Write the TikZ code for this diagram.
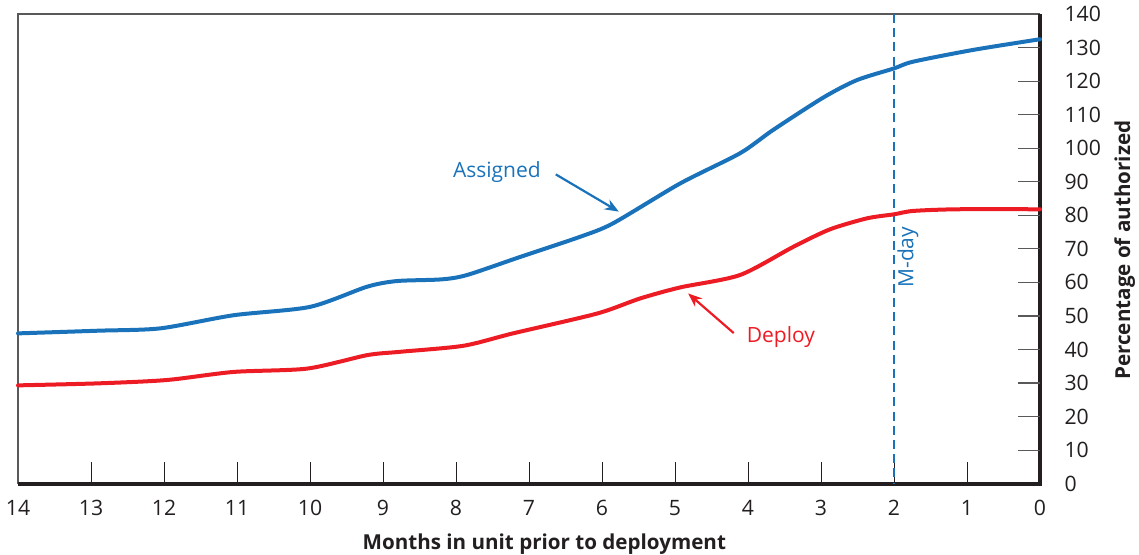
\documentclass[tikz,border=0pt]{standalone}
\usepackage{fontspec}
\setmainfont{Open Sans}
\usetikzlibrary{arrows.meta}

\definecolor{asgblue}{RGB}{26,115,186}
\definecolor{depred}{RGB}{237,28,36}
\definecolor{inkdark}{RGB}{35,31,32}

\tikzset{
  curve/.style={line width=2pt, line join=round, line cap=round},
  callout/.style={line width=1.1pt, -{Stealth[length=7pt,width=5.5pt]}},
  ticklab/.style={text=inkdark, font=\fontsize{10.6}{12}\selectfont},
  axtitle/.style={text=inkdark, font=\bfseries\fontsize{10.3}{12}\selectfont}
}

\begin{document}
\begin{tikzpicture}[x=-36.5pt, y=1.677pt]
    \useasboundingbox (14.247,-21.2) rectangle (-1.356,144.2);

    % Frame and axes
    \draw[gray!70!black, line width=0.6pt] (0,140) -- (14,140) -- (14,0);
    \draw[inkdark, line width=2pt] (14,0) -- (0,0) -- (0,140);

    % Month ticks
    \foreach \m in {1,...,13} {
        \draw[inkdark, line width=0.5pt] (\m,0) -- (\m,6.6);
    }
    \foreach \m in {0,...,14} {
        \node[ticklab] (mlab\m) at (\m,-7.2) {\m};
    }

    % Percentage ticks
    \foreach \p in {10,20,...,130} {
        \draw[gray!70!black, line width=0.6pt] (0,\p) -- (0.3,\p);
    }
    \foreach \p in {0,10,...,140} {
        \node[ticklab, anchor=west] (plab\p) at (-0.24,\p) {\p};
    }

    % M-day
    \draw[asgblue, line width=1.3pt, dash pattern=on 4.5pt off 2.6pt] (2,140) -- (2,0);
    \node[text=asgblue, rotate=90, font=\fontsize{10.5}{12}\selectfont] (mday) at (1.81,67.5) {M-day};

    % Assigned curve
    \draw[curve, asgblue] plot[smooth, tension=0.45] coordinates {
        (14,44.8) (12.9,45.6) (12.05,46.3) (11.05,50.2) (10.0,52.7)
        (9.22,58.7) (8.81,60.4) (8.2,60.9) (7.85,62.2) (7.12,67.6)
        (6.30,73.6) (5.85,77.6) (4.93,89.5) (4.11,98.5) (3.66,105.4)
        (2.97,115.1) (2.51,120.3) (2.0,123.8) (1.74,125.8) (0.92,129.3)
        (0,132.5)};

    % Deploy curve
    \draw[curve, depred] plot[smooth, tension=0.45] coordinates {
        (14,29.3) (12.9,29.9) (11.96,30.9) (11.05,33.3) (10.04,34.3)
        (9.22,38.3) (8.77,39.3) (7.90,41.1) (7.22,44.8) (6.07,50.7)
        (5.48,55.2) (4.93,58.5) (4.11,62.2) (3.38,70.6) (2.88,75.8)
        (2.37,79.1) (2.0,80.3) (1.74,81.3) (1.14,81.8) (0,81.8)};

    % Callouts
    \node[text=asgblue, font=\fontsize{10.5}{12}\selectfont] (asg) at (7.44,92.8) {Assigned};
    \coordinate (asgtip) at (5.77,81.1);
    \draw[callout, asgblue] ([xshift=4pt,yshift=-1pt]asg.east) -- (asgtip);

    \node[text=depred, font=\fontsize{10.5}{12}\selectfont] (dep) at (3.55,43.7) {Deploy};
    \coordinate (deptip) at (4.82,56.7);
    \draw[callout, depred] ([xshift=-3pt,yshift=2pt]dep.west) -- (deptip);

    % Axis titles
    \node[axtitle] (xtitle) at (6.79,-17.9) {Months in unit prior to deployment};
    \node[axtitle, rotate=90] (ytitle) at (-1.16,69.6) {Percentage of authorized};
\end{tikzpicture}
\end{document}
